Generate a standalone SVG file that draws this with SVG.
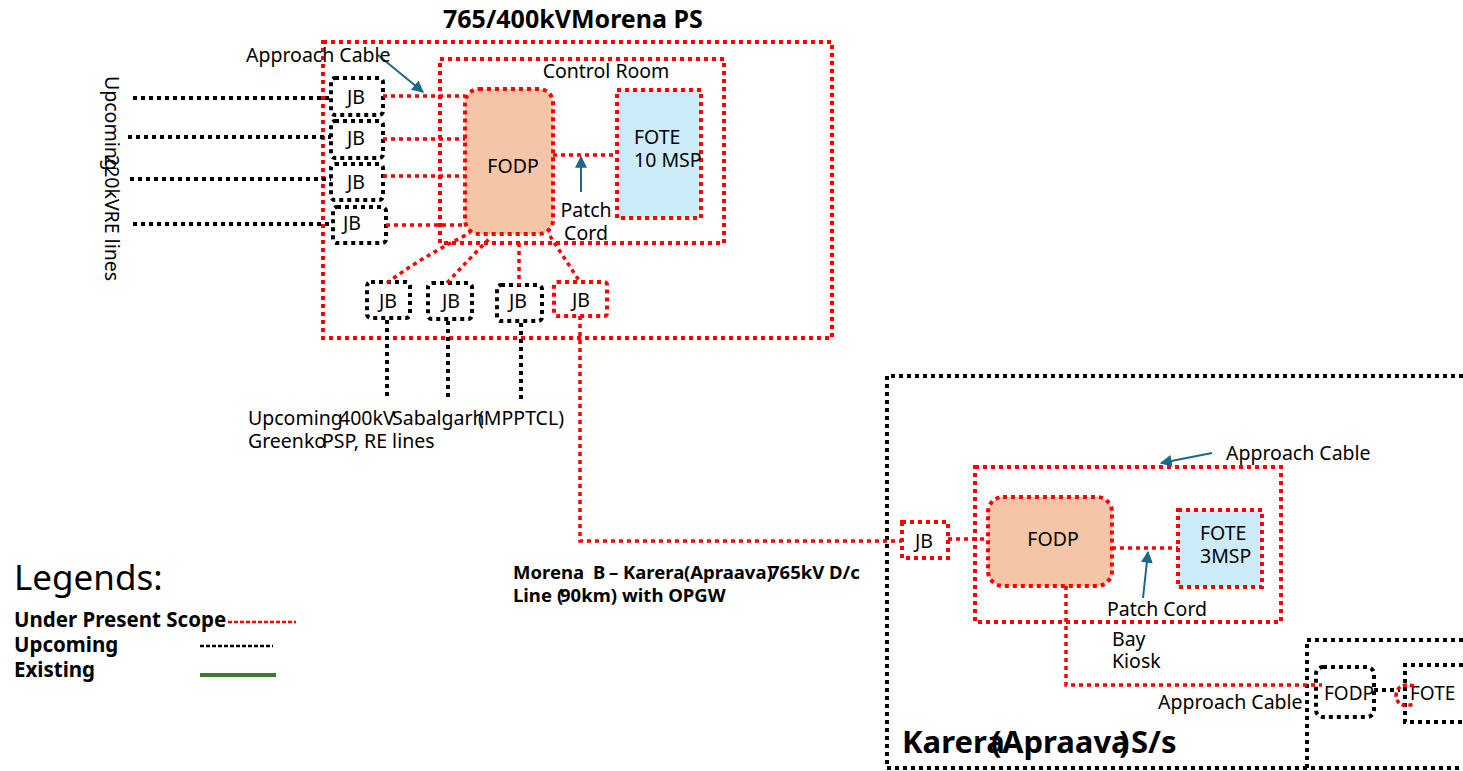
<svg xmlns="http://www.w3.org/2000/svg" width="1463" height="771" viewBox="0 0 1463 771">
<style>
text{font-family:"Noto Sans","Open Sans","DejaVu Sans",sans-serif;fill:#000;}
.t{font-size:19.5px;}
.b{font-weight:bold;}
.m{font-weight:bold;font-size:18.5px;}
.kk{font-weight:bold;font-size:31px;}
.r{fill:none;stroke:#FF0000;stroke-width:4;stroke-dasharray:4 4;}
.k{fill:none;stroke:#000;stroke-width:4;stroke-dasharray:4 4;}
.rl{fill:none;stroke:#FF0000;stroke-width:3.5;stroke-dasharray:4 4;}
.kl{fill:none;stroke:#000;stroke-width:4;stroke-dasharray:4 4;}
.arr{stroke:#1C6887;stroke-width:2;fill:none;marker-end:url(#ah);}
</style>
<defs>
<marker id="ah" viewBox="0 0 10 10" refX="9" refY="5" markerWidth="6" markerHeight="6" orient="auto" markerUnits="strokeWidth"><path d="M0,0 L10,5 L0,10 z" fill="#1C6887"/></marker>
</defs>
<rect width="1463" height="771" fill="#fff"/>

<g id="morena-ps">
<text x="443" y="28" class="b" font-size="25">765/400kVMorena PS</text>
<rect class="r" x="323" y="42" width="509" height="296"/>
</g>
<g id="control-room">
<rect class="r" x="440" y="59" width="284" height="184"/>
<text x="606" y="78" class="t" text-anchor="middle">Control Room</text>
</g>
<g id="fodp-morena">
<rect x="465" y="89" width="88" height="145" rx="14" fill="#F5C5A8" stroke="#FF0000" stroke-width="4" stroke-dasharray="4 4"/>
<text x="513" y="173" class="t" text-anchor="middle">FODP</text>
</g>
<g id="fote-morena">
<rect x="617" y="90" width="84" height="128" fill="#CCECFA" stroke="#FF0000" stroke-width="4" stroke-dasharray="4 4"/>
<text x="634" y="144" class="t">FOTE</text>
<text x="634" y="167" class="t">10 MSP</text>
</g>

<g id="jb-l1"><rect class="k" x="331" y="78" width="52" height="37" rx="4"/><text x="356" y="104" class="t" text-anchor="middle">JB</text></g>
<g id="jb-l2"><rect class="k" x="331" y="121" width="52" height="37" rx="4"/><text x="356" y="145" class="t" text-anchor="middle">JB</text></g>
<g id="jb-l3"><rect class="k" x="331" y="164" width="52" height="36" rx="4"/><text x="356" y="189" class="t" text-anchor="middle">JB</text></g>
<g id="jb-l4"><rect class="k" x="333" y="207" width="53" height="36" rx="4"/><text x="352" y="230" class="t" text-anchor="middle">JB</text></g>

<g id="jb-b1"><rect class="k" x="367" y="282" width="43" height="36" rx="4"/><text x="388" y="308" class="t" text-anchor="middle">JB</text></g>
<g id="jb-b2"><rect class="k" x="428" y="283" width="44" height="36" rx="4"/><text x="451" y="308" class="t" text-anchor="middle">JB</text></g>
<g id="jb-b3"><rect class="k" x="497" y="285" width="45" height="36" rx="4"/><text x="518" y="308" class="t" text-anchor="middle">JB</text></g>
<g id="jb-b4"><rect class="r" x="554" y="282" width="53" height="34" rx="3"/><text x="581" y="307" class="t" text-anchor="middle">JB</text></g>

<g id="karera-ss">
<path class="k" d="M1463,376 L887,376 L887,768 L1463,768"/>
<text x="902" y="753" class="kk">Karera</text>
<text x="991" y="753" class="kk">(</text>
<text x="1002" y="753" class="kk">Apraava</text>
<text x="1119" y="753" class="kk">)</text>
<text x="1131" y="753" class="kk">S/s</text>
</g>
<g id="karera-room">
<rect class="r" x="975" y="467" width="306" height="155"/>
</g>
<g id="fodp-karera">
<rect x="988" y="497" width="124" height="89" rx="15" fill="#F5C5A8" stroke="#FF0000" stroke-width="4" stroke-dasharray="4 4"/>
<text x="1053" y="546" class="t" text-anchor="middle">FODP</text>
</g>
<g id="fote-karera">
<rect x="1178" y="510" width="84" height="77" fill="#CCECFA" stroke="#FF0000" stroke-width="4" stroke-dasharray="4 4"/>
<text x="1200" y="540" class="t">FOTE</text>
<text x="1200" y="563" class="t">3MSP</text>
</g>
<g id="jb-karera"><rect class="r" x="902" y="522" width="46" height="36"/><text x="924" y="548" class="t" text-anchor="middle">JB</text></g>

<g id="bay-kiosk">
<path class="k" d="M1463,640 L1307,640 L1307,768"/>
</g>
<g id="fodp-kiosk"><rect class="k" x="1316" y="667" width="58" height="50" rx="7"/><text x="1324" y="700" font-size="19">FODP</text></g>
<g id="fote-kiosk"><path class="k" d="M1463,665 L1405,665 L1405,722 L1463,722"/><text x="1410" y="700" font-size="19">FOTE</text></g>

<g id="connectors">
<line class="kl" x1="133" y1="98" x2="331" y2="98"/>
<line class="kl" x1="128" y1="137" x2="331" y2="137"/>
<line class="kl" x1="130" y1="179" x2="331" y2="179"/>
<line class="kl" x1="133" y1="224" x2="333" y2="224"/>
<line class="rl" x1="383" y1="96" x2="465" y2="96"/>
<line class="rl" x1="383" y1="139" x2="465" y2="139"/>
<line class="rl" x1="383" y1="176" x2="465" y2="176"/>
<line class="rl" x1="386" y1="225" x2="465" y2="225"/>
<line class="rl" x1="553" y1="155" x2="617" y2="155"/>
<path class="rl" d="M387,283 Q420,258 470,233"/>
<path class="rl" d="M447,283 Q470,258 490,238"/>
<line class="rl" x1="519" y1="243" x2="519" y2="285"/>
<line class="rl" x1="550" y1="236" x2="580" y2="282"/>
<line class="kl" x1="387" y1="320" x2="387" y2="400"/>
<line class="kl" x1="448" y1="321" x2="448" y2="398"/>
<line class="kl" x1="521" y1="323" x2="521" y2="400"/>
<path class="rl" d="M580,316 L580,541 L902,541"/>
<line class="rl" x1="948" y1="539" x2="988" y2="539"/>
<line class="rl" x1="1112" y1="548" x2="1178" y2="548"/>
<path class="rl" d="M1066,586 L1066,685 L1322,685"/>
<line class="kl" x1="1374" y1="690" x2="1400" y2="690"/>
<path d="M1414,686 Q1397,682 1396,696 Q1398,709 1414,704" fill="none" stroke="#FF0000" stroke-width="3.5" stroke-dasharray="4 3"/>
<line class="arr" x1="378" y1="55" x2="423" y2="92"/>
<line class="arr" x1="581" y1="192" x2="581" y2="157"/>
<line class="arr" x1="1143" y1="598" x2="1148" y2="552"/>
<line class="arr" x1="1212" y1="453" x2="1161" y2="463"/>
</g>

<g id="labels">
<text x="246" y="62" class="t">Approach Cable</text>
<text x="586" y="217" class="t" text-anchor="middle">Patch</text>
<text x="586" y="240" class="t" text-anchor="middle">Cord</text>
<text transform="translate(105,76) rotate(90)" class="t">Upcoming</text>
<text transform="translate(105,155) rotate(90)" class="t">220kVRE lines</text>
<text x="248" y="425" class="t">Upcoming</text>
<text x="339" y="425" class="t">400kV</text>
<text x="392" y="425" class="t">Sabalgarh</text>
<text x="478" y="425" class="t">(MPPTCL)</text>
<text x="248" y="448" class="t">Greenko</text>
<text x="322" y="448" class="t">PSP, RE lines</text>
<text x="1226" y="460" class="t">Approach Cable</text>
<text x="1107" y="616" class="t">Patch Cord</text>
<text x="1112" y="646" class="t">Bay</text>
<text x="1112" y="668" class="t">Kiosk</text>
<text x="1158" y="709" class="t">Approach Cable</text>
<text x="513" y="579" class="m">Morena</text>
<text x="593" y="579" class="m">B</text>
<text x="609" y="579" class="m">–</text>
<text x="623" y="579" class="m">Karera</text>
<text x="684" y="579" class="m">(Apraava)</text>
<text x="769" y="579" class="m">765kV D/c</text>
<text x="513" y="602" class="m">Line</text>
<text x="557" y="602" class="m">(</text>
<text x="560" y="602" class="m">90km)</text>
<text x="622" y="602" class="m">with OPGW</text>
</g>

<g id="legend">
<text x="14" y="590" font-size="35">Legends:</text>
<text x="14" y="627" class="b" font-size="20.5">Under Present Scope</text>
<line x1="228" y1="622" x2="296" y2="622" stroke="#FF0000" stroke-width="2.5" stroke-dasharray="4 2"/>
<text x="14" y="652" class="b" font-size="20.5">Upcoming</text>
<line x1="200" y1="646" x2="273" y2="646" stroke="#000" stroke-width="2.5" stroke-dasharray="4 2"/>
<text x="14" y="677" class="b" font-size="20.5">Existing</text>
<line x1="200" y1="675" x2="276" y2="675" stroke="#3A7D22" stroke-width="4"/>
</g>
</svg>
